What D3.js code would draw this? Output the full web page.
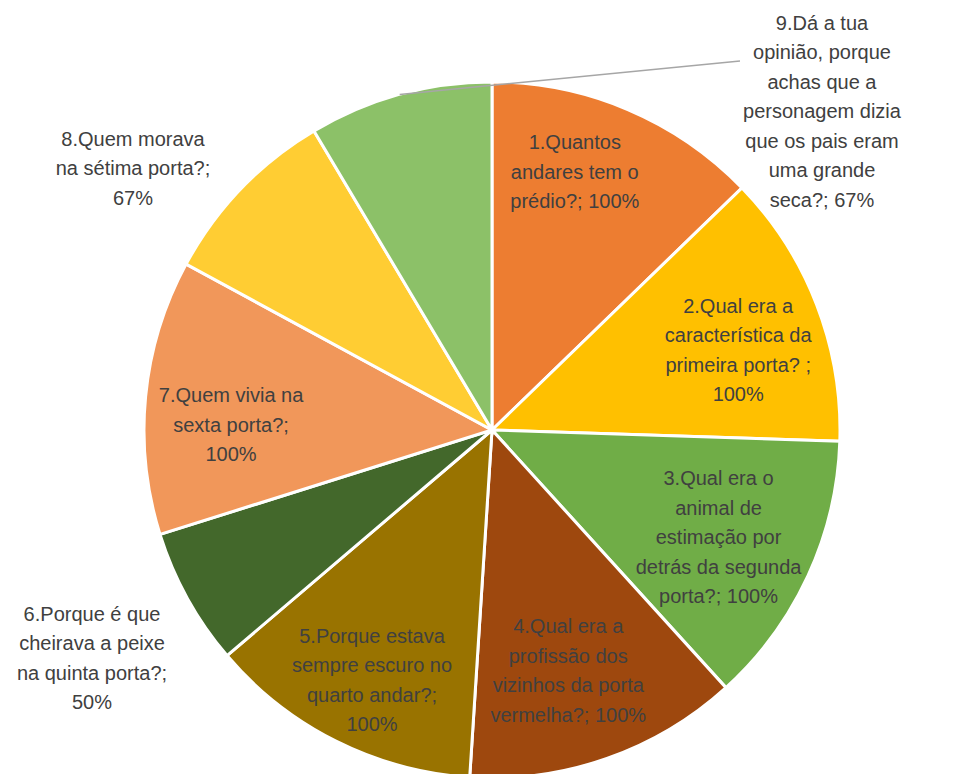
<!DOCTYPE html>
<html>
<head>
<meta charset="utf-8">
<script src="https://cdn.jsdelivr.net/npm/d3@7"></script>
<style>
  body { margin: 0; background: #fff; }
  text { font-family: "Liberation Sans", Arial, sans-serif; font-size: 20px; fill: #404040; }
</style>
</head>
<body>
<svg id="chart" width="961" height="774"></svg>
<script>
const questions = [
  "1.Quantos andares tem o prédio?",
  "2.Qual era a característica da primeira porta? ",
  "3.Qual era o animal de estimação por detrás da segunda porta?",
  "4.Qual era a profissão dos vizinhos da porta vermelha?",
  "5.Porque estava sempre escuro no quarto andar?",
  "6.Porque é que cheirava a peixe na quinta porta?",
  "7.Quem vivia na sexta porta?",
  "8.Quem morava na sétima porta?",
  "9.Dá a tua opinião, porque achas que a personagem dizia que os pais eram uma grande seca?"
];
const percents = [100, 100, 100, 100, 100, 50, 100, 67, 67];
const labelLines = [
  ["1.Quantos", "andares tem o", "prédio?; 100%"],
  ["2.Qual era a", "característica da", "primeira porta? ;", "100%"],
  ["3.Qual era o", "animal de", "estimação por", "detrás da segunda", "porta?; 100%"],
  ["4.Qual era a", "profissão dos", "vizinhos da porta", "vermelha?; 100%"],
  ["5.Porque estava", "sempre escuro no", "quarto andar?;", "100%"],
  ["6.Porque é que", "cheirava a peixe", "na quinta porta?;", "50%"],
  ["7.Quem vivia na", "sexta porta?;", "100%"],
  ["8.Quem morava", "na sétima porta?;", "67%"],
  ["9.Dá a tua", "opinião, porque", "achas que a", "personagem dizia", "que os pais eram", "uma grande", "seca?; 67%"]
];
const colors = ["#ED7D31", "#FFC000", "#70AD47", "#9E480E", "#997300",
                "#43682B", "#F1975A", "#FFCD33", "#8CC168"];

const center = { x: 492, y: 430 };
const radius = 348;
const lineH = 29.5;
// inside labels: radius factor + angle nudge (deg); outside labels: offset from center
const labelPlace = [
  { r: 0.78, da: -5.2 }, { r: 0.744, da: 3.1 }, { r: 0.72, da: 0.5 },
  { r: 0.725, da: 1.7 }, { r: 0.797, da: -1 },
  { dx: -400, dy: 228 }, { r: 0.75, da: -4.4 }, { dx: -359, dy: -262 }, { dx: 330, dy: -319 }
];

const svg = d3.select("#chart");
const g = svg.append("g").attr("transform", `translate(${center.x},${center.y})`);

const pie = d3.pie().sort(null).value(d => d);
const arcs = pie(percents);
const arc = d3.arc().innerRadius(0).outerRadius(radius);

g.selectAll("path.slice")
  .data(arcs)
  .join("path")
  .attr("class", "slice")
  .attr("d", arc)
  .attr("fill", (d, i) => colors[i])
  .attr("stroke", "#fff")
  .attr("stroke-width", 3)
  .append("title")
  .text((d, i) => questions[i]);

const labelPos = (d, i) => {
  const p = labelPlace[i];
  if (p.r !== undefined) {
    const a = (d.startAngle + d.endAngle) / 2 + p.da * Math.PI / 180;
    const r = radius * p.r;
    return [r * Math.sin(a), -r * Math.cos(a)];
  }
  return [p.dx, p.dy];
};

// leader line for the last label
const last = arcs[8];
const edge = d3.arc().innerRadius(radius).outerRadius(radius).centroid(last);
const lp = labelPos(last, 8);
g.append("line")
  .attr("x1", edge[0]).attr("y1", edge[1])
  .attr("x2", lp[0] - 82).attr("y2", lp[1] - 50)
  .attr("stroke", "#A6A6A6")
  .attr("stroke-width", 1.5);

arcs.forEach((d, i) => {
  const [x, y] = labelPos(d, i);
  const lines = labelLines[i];
  const t = g.append("text")
    .attr("text-anchor", "middle")
    .attr("x", x)
    .attr("y", y - (lines.length - 1) * lineH / 2);
  lines.forEach((l, k) => {
    t.append("tspan")
      .attr("x", x)
      .attr("dy", k === 0 ? "0.35em" : lineH)
      .text(l);
  });
});
</script>
</body>
</html>
